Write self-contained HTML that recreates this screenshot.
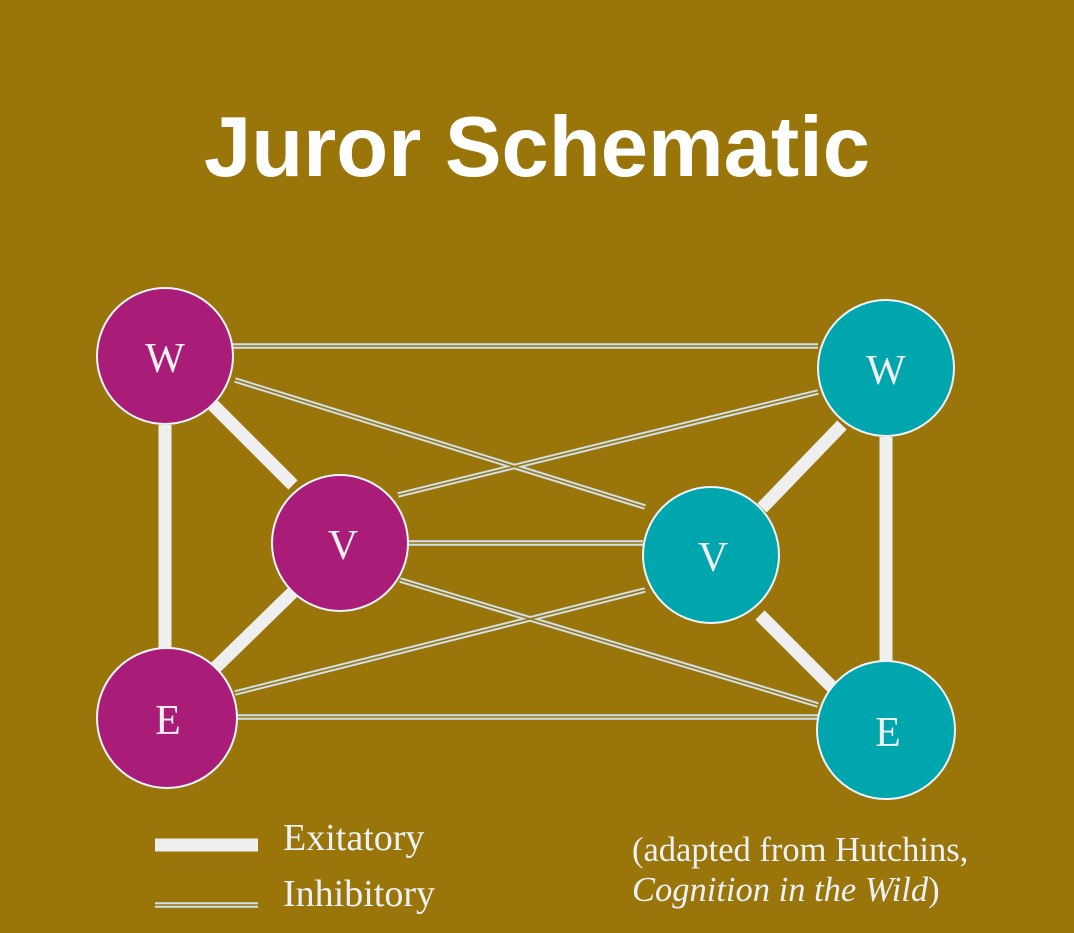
<!DOCTYPE html>
<html><head><style>body{margin:0;background:#9a760a}</style></head><body>
<svg width="1074" height="928" xmlns="http://www.w3.org/2000/svg">
<rect width="1074" height="928" fill="#9a760a"/>
<text x="537" y="176" text-anchor="middle" font-family="Liberation Sans, sans-serif" font-weight="bold" font-size="85" fill="#fff">Juror Schematic</text>
<g stroke="#cfe0f0" stroke-width="5.5" fill="none">
<line x1="233" y1="346" x2="818" y2="346"/>
<line x1="235" y1="380" x2="645" y2="507"/>
<line x1="398" y1="495" x2="818" y2="392"/>
<line x1="408" y1="543" x2="643" y2="543"/>
<line x1="400" y1="580" x2="818" y2="705"/>
<line x1="235" y1="693" x2="645" y2="590"/>
<line x1="235" y1="717" x2="818" y2="717"/>
<line x1="155" y1="905" x2="258" y2="905"/>
</g>
<g stroke="#9a760a" stroke-width="1.6" fill="none">
<line x1="233" y1="346" x2="818" y2="346"/>
<line x1="235" y1="380" x2="645" y2="507"/>
<line x1="398" y1="495" x2="818" y2="392"/>
<line x1="408" y1="543" x2="643" y2="543"/>
<line x1="400" y1="580" x2="818" y2="705"/>
<line x1="235" y1="693" x2="645" y2="590"/>
<line x1="235" y1="717" x2="818" y2="717"/>
<line x1="155" y1="905" x2="258" y2="905"/>
</g>
<g stroke="#efefef" stroke-width="13">
<line x1="213" y1="405" x2="293" y2="485"/>
<line x1="165" y1="425" x2="165" y2="652"/>
<line x1="293" y1="592" x2="213" y2="670"/>
<line x1="842" y1="425" x2="762" y2="508"/>
<line x1="886" y1="437" x2="886" y2="662"/>
<line x1="760" y1="615" x2="838" y2="693"/>
<line x1="155" y1="845" x2="258" y2="845"/>
</g>
<g stroke="#eef4fa" stroke-width="2">
<circle cx="165" cy="356" r="68" fill="#a91d78"/>
<circle cx="340" cy="543" r="68" fill="#a91d78"/>
<circle cx="167" cy="718" r="70" fill="#a91d78"/>
<circle cx="886" cy="368" r="68" fill="#00a6ad"/>
<circle cx="711" cy="555" r="68" fill="#00a6ad"/>
<circle cx="886" cy="730" r="69" fill="#00a6ad"/>
</g>
<g font-family="Liberation Serif, serif" font-size="42" fill="#f0f0f0" text-anchor="middle">
<text x="165" y="372">W</text>
<text x="343" y="559">V</text>
<text x="168" y="734">E</text>
<text x="886" y="384">W</text>
<text x="713" y="571">V</text>
<text x="888" y="746">E</text>
</g>
<g font-family="Liberation Serif, serif" fill="#eef2f8">
<text x="283" y="850" font-size="38">Exitatory</text>
<text x="283" y="906" font-size="38">Inhibitory</text>
<text x="632" y="861" font-size="34.5">(adapted from Hutchins,</text>
<text x="632" y="901" font-size="34.5"><tspan font-style="italic">Cognition in the Wild</tspan>)</text>
</g>
</svg>
</body></html>
